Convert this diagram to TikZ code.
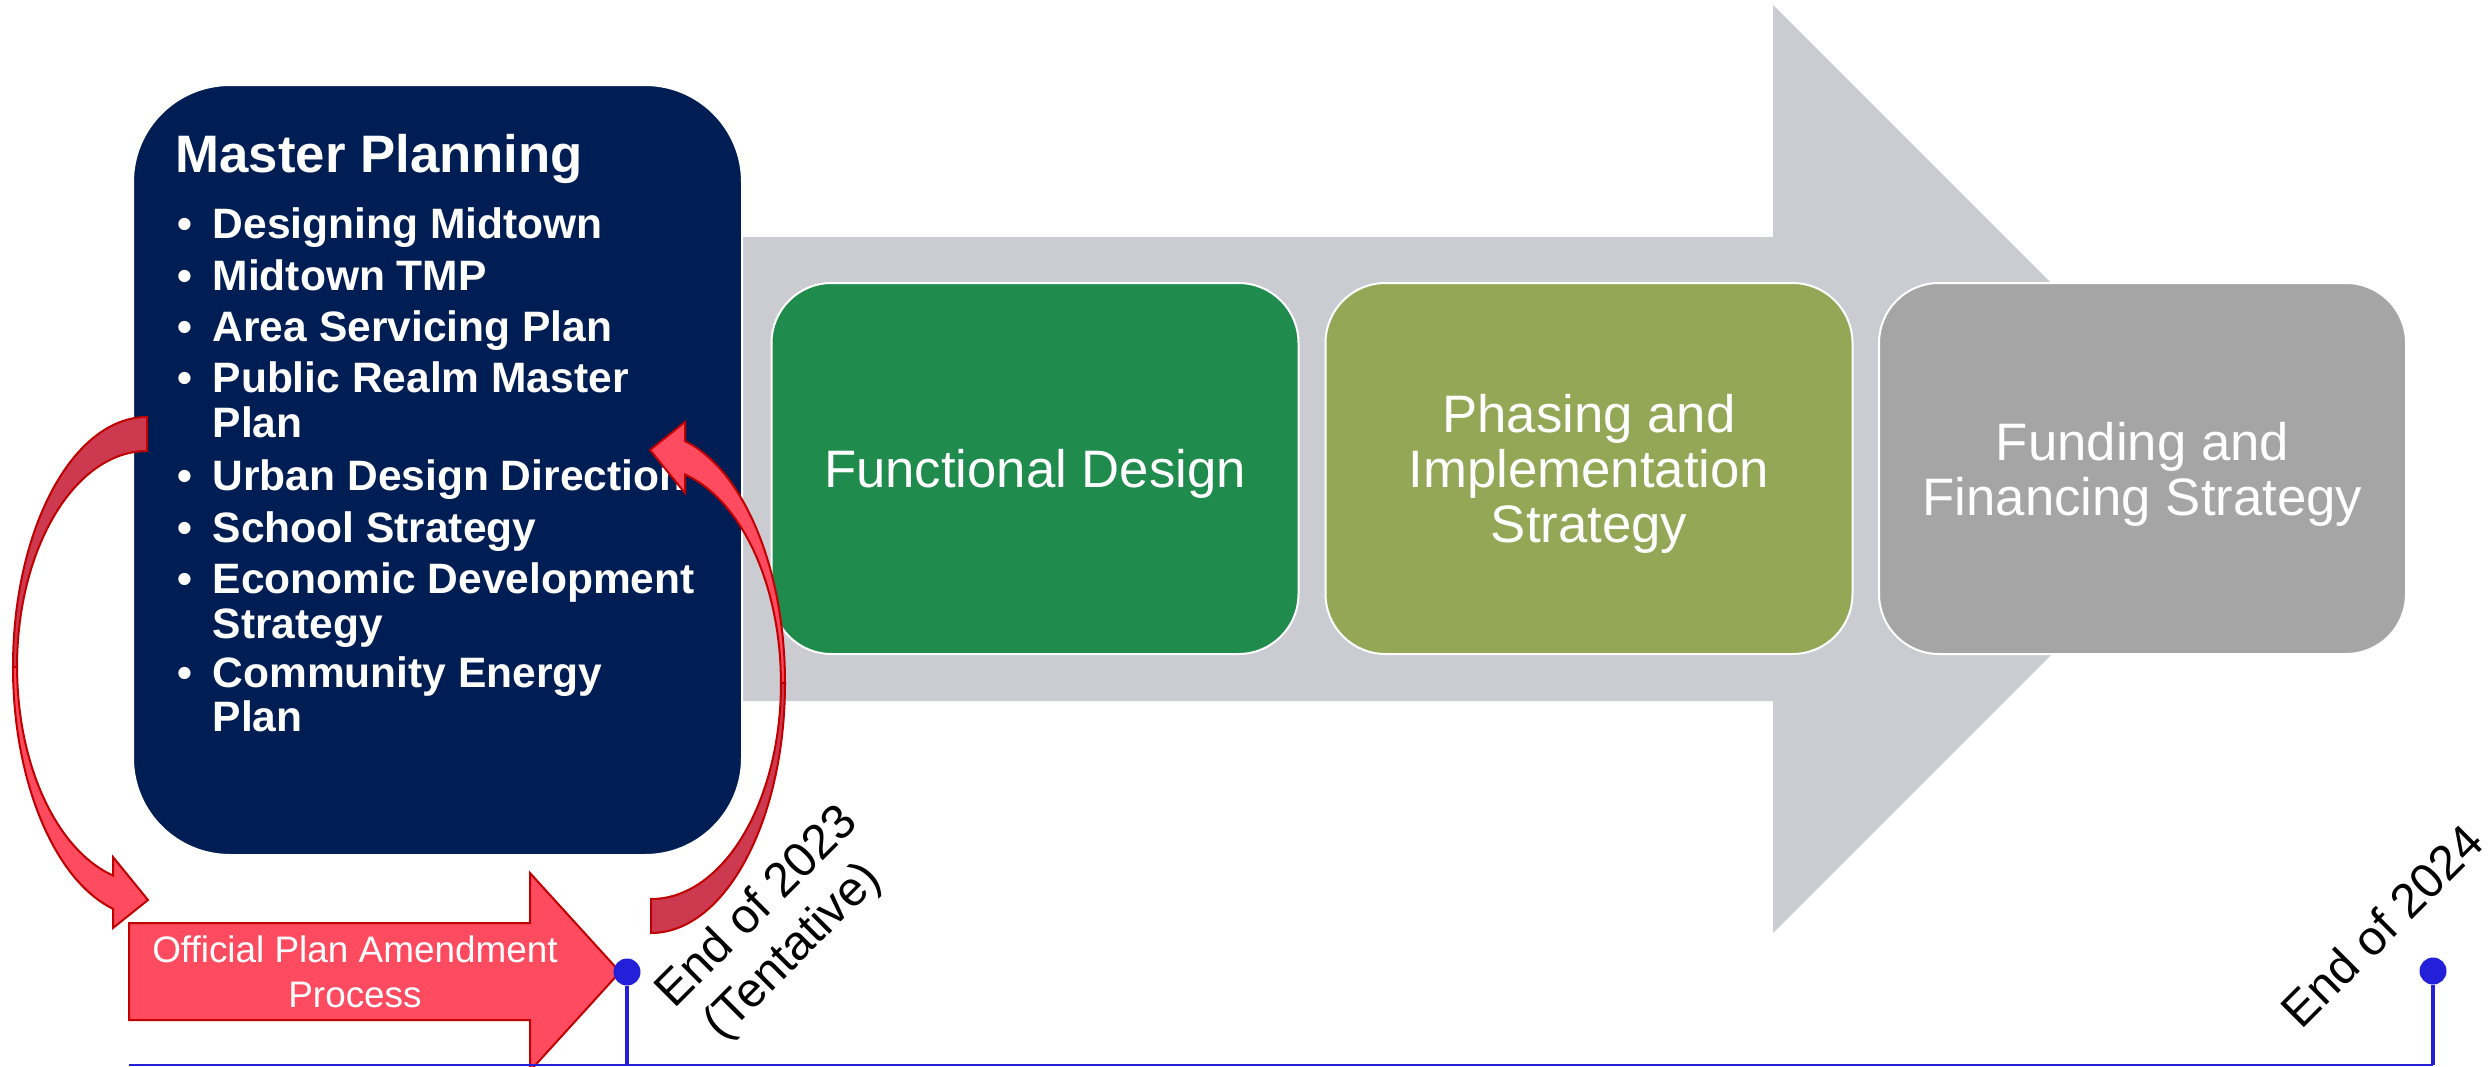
\documentclass[tikz,border=0pt]{standalone}
\usepackage{fontspec}
\setmainfont{Liberation Sans}
\usetikzlibrary{calc}
\definecolor{mpnavy}{RGB}{1,30,84}
\definecolor{shaftgray}{RGB}{203,204,209}
\definecolor{fdgreen}{RGB}{31,139,77}
\definecolor{piolive}{RGB}{148,167,86}
\definecolor{ffgray}{RGB}{165,165,165}
\definecolor{opared}{RGB}{255,75,95}
\definecolor{loopdark}{RGB}{205,58,79}
\definecolor{edgered}{RGB}{192,0,0}
\definecolor{tlblue}{RGB}{36,32,218}
\tikzstyle{stagebox}=[rectangle,rounded corners=6mm,draw=white,line width=0.2mm,minimum width=52.7mm,minimum height=37.1mm]
\tikzstyle{stagetext}=[inner sep=0pt,align=center,text=white,font=\fontsize{15}{15.6}\selectfont]
\tikzstyle{mpbox}=[rectangle,rounded corners=9.7mm,fill=mpnavy,draw=white,line width=0.2mm,minimum width=60.9mm,minimum height=77mm]
\tikzstyle{mptext}=[anchor=base west,inner sep=0pt,text=white,font=\bfseries\fontsize{12.1}{12.8}\selectfont]
\tikzstyle{opashape}=[fill=opared,draw=edgered,line width=0.2mm]
\tikzstyle{loopfront}=[fill=opared,draw=edgered,line width=0.2mm]
\tikzstyle{loopback}=[fill=loopdark,draw=edgered,line width=0.2mm]
\tikzstyle{timeline}=[draw=tlblue,line width=0.25mm]
\tikzstyle{tickline}=[draw=tlblue,line width=0.45mm]
\tikzstyle{tickdot}=[circle,fill=tlblue,inner sep=0pt,minimum size=2.7mm]
\tikzstyle{datelabel}=[rotate=45,inner sep=0pt,align=center,font=\fontsize{13.8}{16}\selectfont]
\newcommand{\drawloop}[3]{

\begin{scope}[shift={(#1,#2)},rotate=#3]
  \filldraw[loopback] (0,-250) arc[start angle=270,end angle=180,x radius=134,y radius=250]
    -- (-130,0) arc[start angle=180,end angle=270,x radius=130,y radius=216] -- cycle;
  \filldraw[loopfront] (-134,0) arc[start angle=180,end angle=104.7,x radius=134,y radius=250]
    -- (-34,261) -- (1,233) -- (-34,190) -- (-34,208.5)
    arc[start angle=105.2,end angle=180,x radius=130,y radius=216] -- cycle;
\end{scope}
}

\begin{document}
\begin{tikzpicture}[x=0.1mm,y=-0.1mm]
  \useasboundingbox (0,0) rectangle (2491,1067);
  \clip (0,0) rectangle (2491,1067);
  % big arrow behind the stages
  \fill[shaftgray] (700,237) -- (1773,237) -- (1773,5) -- (2237,469) -- (1773,933) -- (1773,701) -- (700,701) -- cycle;
  \node[mpbox] (mp) at (437.5,470) {};
  \node[mptext,font=\bfseries\fontsize{15}{16}\selectfont] (mptitle) at (175,172) {Master Planning};
  \foreach \y/\b/\t [count=\i] in {238/\textbullet/Designing Midtown,290/\textbullet/Midtown TMP,
      341/\textbullet/Area Servicing Plan,392/\textbullet/Public Realm Master,437//Plan,
      490/\textbullet/Urban Design Direction,542/\textbullet/School Strategy,
      593/\textbullet/Economic Development,638//Strategy,687/\textbullet/Community Energy,731//Plan} {
    \node[mptext] (item\i) at (177,\y) {\makebox[3.5mm][l]{\b}\t};
  }
  \foreach \x/\col/\t/\nm in {1035/fdgreen/{Functional Design}/fd,
      1589/piolive/{Phasing and\\Implementation\\Strategy}/pi,
      2142.5/ffgray/{Funding and\\Financing Strategy}/ff} {
    \node[stagebox,fill=\col] (\nm) at (\x,468.5) {};
    \node[stagetext] (\nm text) at (\x,474) {\t};
  }
  % official plan amendment
  \filldraw[opashape] (129,923) -- (530,923) -- (530,873) -- (620,972) -- (530,1071) -- (530,1020) -- (129,1020) -- cycle;
  \node[text=white,align=center,inner sep=0pt,font=\fontsize{10.5}{12.8}\selectfont] (opa) at (355,972) {Official Plan Amendment\\Process};
  % timeline
  \coordinate (tlstart) at (129,1065);
  \node[tickdot] (d2023) at (627,972) {};
  \coordinate (d2023base) at (627,1065);
  \node[tickdot] (d2024) at (2433,971) {};
  \coordinate (d2024base) at (2433,1065);
  \draw[timeline] (tlstart) -- (d2024base);
  \draw[tickline] (d2023base) -- (d2023);
  \draw[tickline] (d2024base) -- (d2024);
  \node[datelabel] (lbl2023) at (778,928) {End of 2023\\\hspace*{-1.2mm}(Tentative)};
  \node[datelabel,anchor=base west] (lbl2024) at (2301,1031) {End of 2024};
  \drawloop{147}{667}{0}
  \drawloop{651}{683}{180}
\end{tikzpicture}
\end{document}
